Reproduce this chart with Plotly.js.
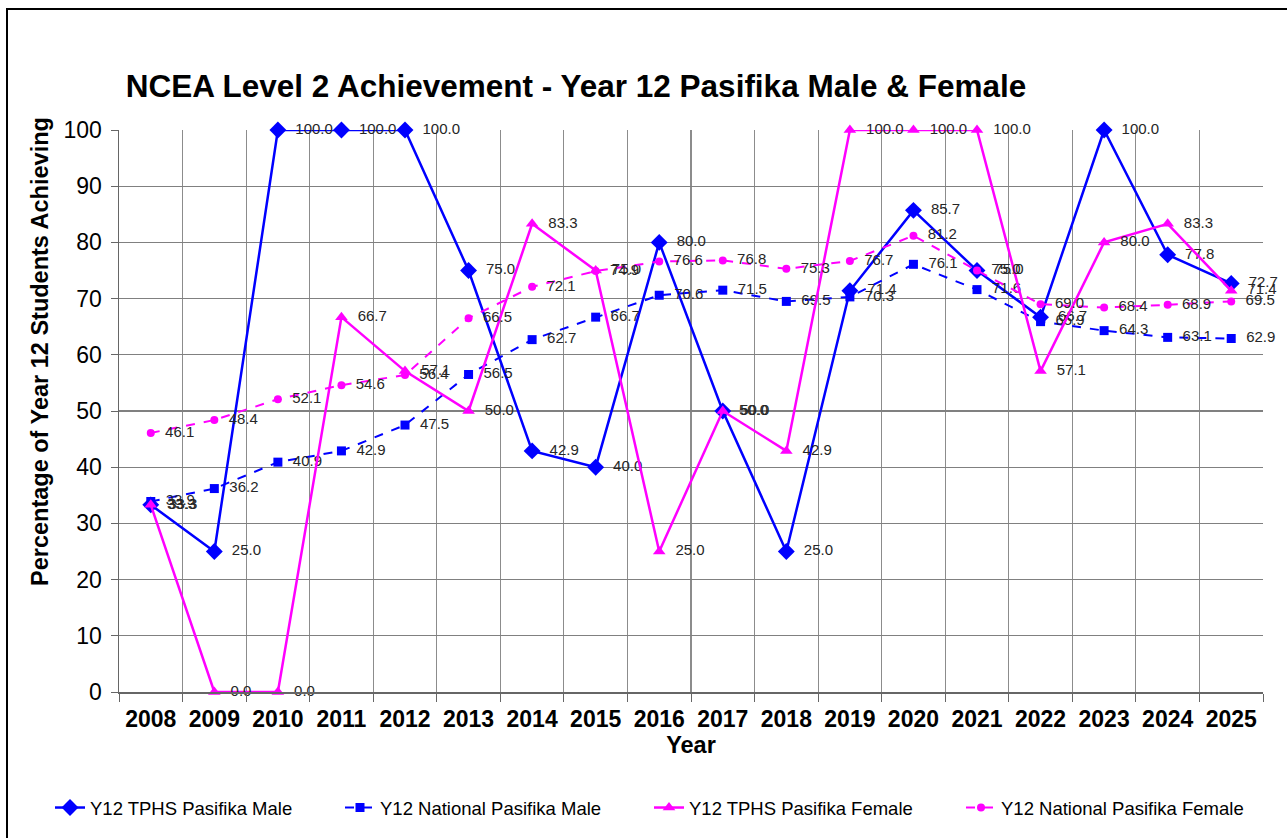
<!DOCTYPE html>
<html>
<head>
<meta charset="utf-8">
<script src="https://cdn.plot.ly/plotly-3.0.1.min.js"></script>
<style>
html,body{margin:0;padding:0;background:#fff;}
#wrap{position:relative;width:1287px;height:838px;overflow:hidden;}
#frame{position:absolute;left:6px;top:8px;width:1400px;height:900px;border-left:2px solid #000;border-top:2px solid #000;pointer-events:none;z-index:5;}
#chart{position:absolute;left:0;top:0;width:1287px;height:838px;}
</style>
</head>
<body>
<div id="wrap">
<div id="chart"></div>
<div id="frame"></div>
</div>
<script>
var years = [2008,2009,2010,2011,2012,2013,2014,2015,2016,2017,2018,2019,2020,2021,2022,2023,2024,2025];
var tphsMale = [33.3,25.0,100.0,100.0,100.0,75.0,42.9,40.0,80.0,50.0,25.0,71.4,85.7,75.0,66.7,100.0,77.8,72.7];
var natMale = [33.9,36.2,40.9,42.9,47.5,56.5,62.7,66.7,70.6,71.5,69.5,70.3,76.1,71.6,65.9,64.3,63.1,62.9];
var tphsFemale = [33.3,0.0,0.0,66.7,57.1,50.0,83.3,75.0,25.0,50.0,42.9,100.0,100.0,100.0,57.1,80.0,83.3,71.4];
var natFemale = [46.1,48.4,52.1,54.6,56.4,66.5,72.1,74.9,76.6,76.8,75.3,76.7,81.2,75.0,69.0,68.4,68.9,69.5];
var seriesNames = ['Y12 TPHS Pasifika Male','Y12 National Pasifika Male','Y12 TPHS Pasifika Female','Y12 National Pasifika Female'];

var FONT = 'Liberation Sans, Arial, sans-serif';
function fmt(a){return a.map(function(v){return v.toFixed(1);});}
var labelFont = {family:FONT, size:15, color:'#262626'};
var labelTemplate = '\u00a0\u00a0%{text}';

var traces = [
 {x:years, y:tphsMale, name:seriesNames[0], legend:'legend', mode:'lines+markers+text', text:fmt(tphsMale), texttemplate:labelTemplate, textposition:'middle right', textfont:labelFont,
  line:{color:'#0000FF', width:2.5}, marker:{symbol:'diamond', size:13, color:'#0000FF'}, cliponaxis:false},
 {x:years, y:natMale, name:seriesNames[1], legend:'legend2', mode:'lines+markers+text', text:fmt(natMale), texttemplate:labelTemplate, textposition:'middle right', textfont:labelFont,
  line:{color:'#0000FF', width:2, dash:'dash'}, marker:{symbol:'square', size:9, color:'#0000FF'}, cliponaxis:false},
 {x:years, y:tphsFemale, name:seriesNames[2], legend:'legend3', mode:'lines+markers+text', text:fmt(tphsFemale), texttemplate:labelTemplate, textposition:'middle right', textfont:labelFont,
  line:{color:'#FF00FF', width:2.5}, marker:{symbol:'triangle-up', size:11, color:'#FF00FF'}, cliponaxis:false},
 {x:years, y:natFemale, name:seriesNames[3], legend:'legend4', mode:'lines+markers+text', text:fmt(natFemale), texttemplate:labelTemplate, textposition:'middle right', textfont:labelFont,
  line:{color:'#FF00FF', width:2, dash:'dash'}, marker:{symbol:'circle', size:8, color:'#FF00FF'}, cliponaxis:false}
];

function leg(left){
 return {orientation:'h', xref:'container', yref:'container', x:left/1287, xanchor:'left', y:1-808/838, yanchor:'middle',
  font:{family:FONT, size:18.5, color:'#000'}, bgcolor:'rgba(0,0,0,0)', borderwidth:0};
}

var layout = {
 width:1287, height:838,
 margin:{l:119, r:24, t:130, b:146, autoexpand:false},
 paper_bgcolor:'#fff', plot_bgcolor:'#fff',
 font:{family:FONT, color:'#000'},
 title:{text:'<b>NCEA Level 2 Achievement - Year 12 Pasifika Male &amp; Female</b>', font:{size:31.5, color:'#000'}, xref:'container', x:576/1287, xanchor:'center', yref:'container', y:1-86/838, yanchor:'middle'},
 showlegend:true,
 legend:leg(50), legend2:leg(340), legend3:leg(649), legend4:leg(961),
 xaxis:{
  range:[2007.5,2025.5], tickmode:'array', tickvals:years, ticktext:years.map(String),
  tickfont:{size:23, color:'#000', family:FONT, weight:'bold'},
  showgrid:false, ticks:'', showline:true, linecolor:'#666', linewidth:1.5, zeroline:false,
  ticklabelstandoff:6,
  minor:{tick0:2007.5, dtick:1, showgrid:true, gridcolor:'#8c8c8c', gridwidth:1.2, ticks:'outside', ticklen:8, tickcolor:'#666'},
  title:{text:'<b>Year</b>', font:{size:23.5, color:'#000'}, standoff:4},
  automargin:false, fixedrange:true
 },
 yaxis:{
  range:[0,100], dtick:10, tick0:0,
  tickfont:{size:23, color:'#000', family:FONT},
  showgrid:true, gridcolor:'#808080', gridwidth:1.2,
  ticks:'outside', ticklen:7, tickcolor:'#666', showline:true, linecolor:'#666', linewidth:1.5, zeroline:false,
  ticklabelstandoff:4,
  automargin:false, fixedrange:true
 },
 annotations:[
  {text:'<b>Percentage of Year 12 Students Achieving</b>', textangle:-90, xref:'paper', yref:'paper', x:(40-119)/1144, y:(692-352)/562, xanchor:'center', yanchor:'middle', showarrow:false, font:{size:23.5, color:'#000'}}
 ]
};

Plotly.newPlot('chart', traces, layout, {displayModeBar:false, staticPlot:true});
</script>
</body>
</html>
